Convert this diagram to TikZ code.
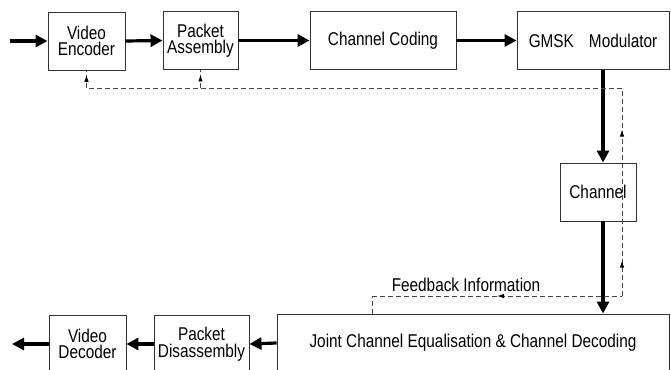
\documentclass[tikz,border=0pt]{standalone}
\usepackage{fontspec}
\setmainfont[FakeStretch=0.83]{Liberation Sans}
\usepackage{tikz}
\usetikzlibrary{arrows.meta,decorations.markings}
\definecolor{boxgray}{RGB}{50,50,50}
\definecolor{fbgray}{RGB}{70,70,70}

\begin{document}
\begin{tikzpicture}[x=1pt, y=-1pt,
    blk/.style={draw=boxgray, line width=0.9pt, minimum height=58pt, inner sep=0pt, align=center,
        font=\fontsize{18.5}{16.5}\selectfont},
    sig/.style={line width=3.2pt, -{Triangle[length=12pt,width=12pt]}},
    fb/.style={draw=fbgray, line width=0.9pt, dash pattern=on 5pt off 3pt},
    fbtip/.style={postaction={decorate, decoration={markings,
        mark=at position #1 with {\pgfsetdash{}{0pt}\arrow[black]{Latex[length=7pt,width=4.5pt]}}}}},
    fbback/.style={postaction={decorate, decoration={markings,
        mark=at position #1 with {\pgfsetdash{}{0pt}\arrowreversed[black]{Latex[length=7pt,width=4.5pt]}}}}}]
    \useasboundingbox (0,0) rectangle (671,369);
    \clip (0,0) rectangle (671,369);

    % Trasmettitore
    \node[blk, minimum width=77pt] (venc) at (86.5,41) {Video\\Encoder};
    \node[blk, minimum width=75pt] (pasm) at (200.5,40.5) {Packet\\Assembly};
    \node[blk, minimum width=146pt] (ccod) at (383,40.5) {Channel Coding};
    \node[blk, minimum width=152pt] (gmsk) at (593,40.5) {GMSK\hspace{15pt}Modulator};

    % Canale
    \node[blk, minimum width=76pt] (chan) at (598,192) {Channel};

    % Ricevitore
    \node[blk, minimum width=392pt] (joint) at (473,343) {Joint Channel Equalisation \& Channel Decoding};
    \node[blk, minimum width=95pt] (pdis) at (201.5,344) {Packet\\Disassembly};
    \node[blk, minimum width=77pt] (vdec) at (87.5,344) {Video\\Decoder};

    % Punti ausiliari
    \coordinate (in) at (10,41);
    \coordinate (out) at (12,344);
    \coordinate (line) at (603,0);
    \coordinate (fbl) at (372,296);
    \coordinate (fbr) at (622,296);
    \coordinate (fbt) at (622,88);
    \coordinate (fbe) at (86.5,88);

    % Frecce
    \draw[sig] (in) -- (venc.west);
    \draw[sig] (venc.east) -- (pasm.west);
    \draw[sig] (pasm.east) -- (ccod.west);
    \draw[sig] (ccod.east) -- (gmsk.west);
    \draw[sig] (gmsk.south -| line) -- (chan.north -| line);
    \draw[sig] (chan.south -| line) -- (joint.north -| line);
    \draw[sig] (joint.west) -- (pdis.east);
    \draw[sig] (pdis.west) -- (vdec.east);
    \draw[sig] (vdec.west) -- (out);

    % Retroazione
    \draw[fb] (joint.north -| fbl) -- (fbl);
    \draw[fb, fbback=0.5] (fbl) -- (fbr);
    \draw[fb, fbtip=0.17, fbtip=0.8] (fbr) -- (fbt);
    \draw[fb] (fbt) -- (fbe);
    \draw[fb, fbtip=0.75] (fbe) -- (venc.south);
    \draw[fb, fbtip=0.75] (pasm.south |- fbt) -- (pasm.south);
    \node[font=\fontsize{18.5}{16}\selectfont, inner sep=0pt, anchor=base] (fbinfo) at (466,291) {Feedback Information};
\end{tikzpicture}
\end{document}
